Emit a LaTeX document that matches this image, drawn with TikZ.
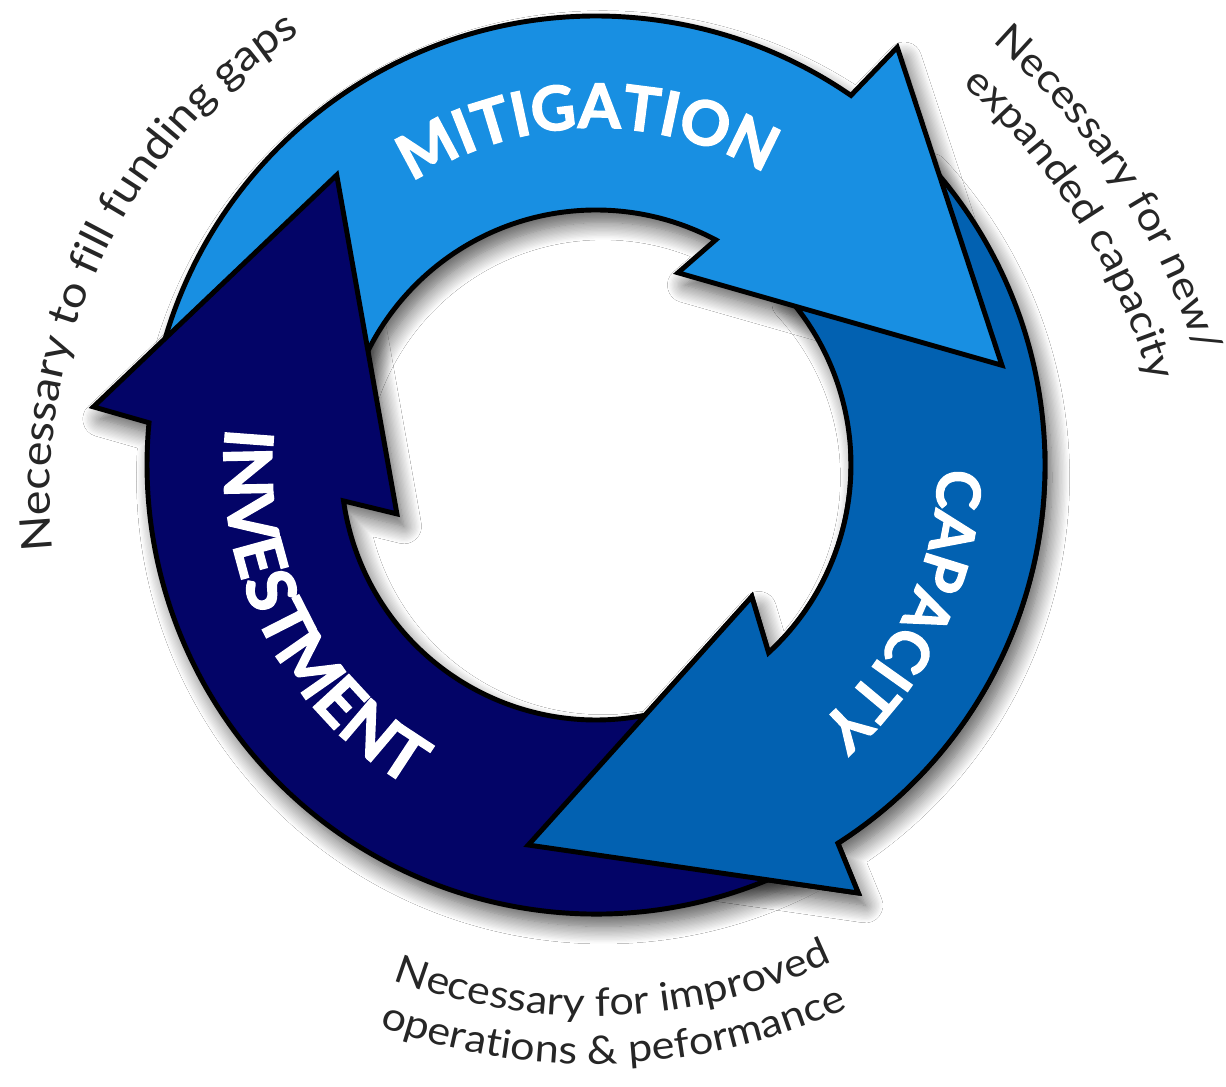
\documentclass[tikz,border=0pt]{standalone}
\usepackage{fontspec}
\setmainfont{Lato}
\newfontfamily\heavyfont{Lato}[FakeBold=2.2]
\newfontfamily\notefont{Lato}[FakeStretch=1.1]
\usetikzlibrary{decorations.text, shadows.blur}

\definecolor{mitiblue}{RGB}{24,143,226}
\definecolor{capablue}{RGB}{2,97,177}
\definecolor{investnavy}{RGB}{3,4,103}

% ring radii, in px-sized units round the ring centre
\newcommand{\ringout}{449}
\newcommand{\ringin}{255}

% each arrow: tail (hidden under the previous head), outer arc, barbs, tip, inner arc back
\newcommand{\mitigationarrow}{(170:\ringout) arc[start angle=170, end angle=55.4, radius=\ringout]
  -- (54.2:515) -- (13.8:418) -- (66.9:209) -- (62:\ringin)
  arc[start angle=62, end angle=170, radius=\ringin] -- cycle}
\newcommand{\capacityarrow}{(43:\ringout) arc[start angle=43, end angle=-57.4, radius=\ringout]
  -- (-58.5:502) -- (-100.1:386) -- (-40.2:204) -- (-47.4:\ringin)
  arc[start angle=-47.4, end angle=43, radius=\ringin] -- cycle}
\newcommand{\investmentarrow}{(300:\ringout) arc[start angle=300, end angle=174.6, radius=\ringout]
  -- (173.4:506) -- (131.8:389) -- (193.8:205) -- (188.1:\ringin)
  arc[start angle=188.1, end angle=300, radius=\ringin] -- cycle}

\begin{document}
\begin{tikzpicture}[
  x=0.02cm, y=0.02cm,
  band/.style={fill=#1, draw=black, line width=2.8pt, line join=miter},
  castshadow/.style={fill=white, blur shadow={shadow xshift=4pt, shadow yshift=-7pt,
                     shadow blur radius=10pt, shadow blur steps=14, shadow opacity=68}},
  ringlabel/.style 2 args={decorate, decoration={text along path, text align=center,
                    text={|\heavyfont\bfseries\fontsize{#1}{#1}\selectfont\color{white}|#2}}},
  notelabel/.style 2 args={decorate, decoration={text along path, text align=center,
                    text={|\notefont\fontsize{#1}{#1}\selectfont\color{black!85}|#2}}},
]

% page
\fill[white] (-596,-622) rectangle (630,465);
\useasboundingbox (-596,-622) rectangle (630,465);

% soft shadows first, under all three arrows
\path[castshadow] \capacityarrow;
\path[castshadow] \mitigationarrow;
\path[castshadow] \investmentarrow;

% arrows; capacity's lower half is laid again on top so its head covers the investment tail
\path[band=capablue] \capacityarrow;
\path[band=mitiblue] \mitigationarrow;
\path[band=investnavy] \investmentarrow;
\begin{scope}
  \clip (-596,-622) rectangle (630,15);
  \path[band=capablue] \capacityarrow;
\end{scope}

% names inside the ring
\path[ringlabel={35}{MITIGATION}] (140:337) arc[start angle=140, end angle=43, radius=337];
\path[ringlabel={34}{CAPACITY}] (15:342) arc[start angle=15, end angle=-65, radius=342];
\path[ringlabel={38}{INVESTMENT}] (160:372) arc[start angle=160, end angle=254, radius=372];

% notes round the outside
\path[notelabel={24.2}{Necessary to fill funding gaps}]
  ([shift={(-1,-27)}]195:545) arc[start angle=195, end angle=113.9, radius=545];
\path[notelabel={22.6}{Necessary for new/}]
  ([shift={(-56,-95)}]52.8:688) arc[start angle=52.8, end angle=13.5, radius=688];
\path[notelabel={22.6}{expanded capacity}]
  ([shift={(-56,-95)}]52.4:636) arc[start angle=52.4, end angle=12.3, radius=636];
\path[notelabel={22.3}{Necessary for improved}]
  ([shift={(-4,14)}]240:565) arc[start angle=240, end angle=304.6, radius=565];
\path[notelabel={22.3}{operations {\&} peformance}]
  ([shift={(-4,14)}]240:613) arc[start angle=240, end angle=304.4, radius=613];

\end{tikzpicture}
\end{document}
